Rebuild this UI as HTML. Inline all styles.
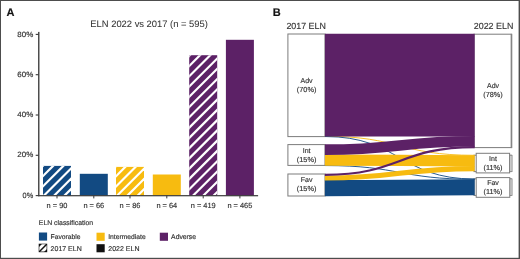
<!DOCTYPE html><html><head><meta charset="utf-8"><title>ELN 2022 vs 2017</title><style>html,body{margin:0;padding:0;background:#fff;width:520px;height:259px;overflow:hidden;}body{position:relative;font-family:"Liberation Sans",sans-serif;}</style></head><body><svg width="520" height="259" viewBox="0 0 520 259" style="position:absolute;left:0;top:0;will-change:transform" font-family='"Liberation Sans", sans-serif'>
<style>text{stroke:#333;stroke-width:0.16px;paint-order:stroke;text-rendering:geometricPrecision}</style>
<defs><clipPath id="cb0"><rect x="43.0" y="165.9" width="28" height="29.69999999999999"/></clipPath><clipPath id="cb2"><rect x="116.0" y="166.9" width="28" height="28.69999999999999"/></clipPath><clipPath id="cb4"><rect x="189.2" y="55.2" width="28" height="140.39999999999998"/></clipPath></defs>
<rect x="0" y="0" width="520" height="259" fill="#fff"/>
<text x="6.5" y="15.6" font-size="11" font-weight="bold" fill="#111">A</text>
<text x="272.8" y="15.7" font-size="11" font-weight="bold" fill="#111">B</text>
<text x="149.1" y="26.5" font-size="9.4" text-anchor="middle" fill="#333333" style="stroke-width:0.05px">ELN 2022 vs 2017 (n = 595)</text>
<rect x="43.0" y="165.9" width="28" height="29.69999999999999" fill="#124a82"/>
<g clip-path="url(#cb0)" stroke="#fff" stroke-width="2.2"><line x1="-2.14" y1="200.60" x2="37.56" y2="160.90"/><line x1="8.13" y1="200.60" x2="47.83" y2="160.90"/><line x1="18.40" y1="200.60" x2="58.10" y2="160.90"/><line x1="28.67" y1="200.60" x2="68.37" y2="160.90"/><line x1="38.94" y1="200.60" x2="78.64" y2="160.90"/><line x1="49.21" y1="200.60" x2="88.91" y2="160.90"/><line x1="59.48" y1="200.60" x2="99.18" y2="160.90"/><line x1="69.75" y1="200.60" x2="109.45" y2="160.90"/><line x1="80.02" y1="200.60" x2="119.72" y2="160.90"/></g>
<rect x="79.8" y="173.8" width="28" height="21.799999999999983" fill="#124a82"/>
<rect x="116.0" y="166.9" width="28" height="28.69999999999999" fill="#f7bb10"/>
<g clip-path="url(#cb2)" stroke="#fff" stroke-width="2.2"><line x1="71.06" y1="200.60" x2="109.76" y2="161.90"/><line x1="81.33" y1="200.60" x2="120.03" y2="161.90"/><line x1="91.60" y1="200.60" x2="130.30" y2="161.90"/><line x1="101.87" y1="200.60" x2="140.57" y2="161.90"/><line x1="112.14" y1="200.60" x2="150.84" y2="161.90"/><line x1="122.41" y1="200.60" x2="161.11" y2="161.90"/><line x1="132.68" y1="200.60" x2="171.38" y2="161.90"/><line x1="142.95" y1="200.60" x2="181.65" y2="161.90"/><line x1="153.22" y1="200.60" x2="191.92" y2="161.90"/></g>
<rect x="152.8" y="174.5" width="28" height="21.099999999999994" fill="#f7bb10"/>
<rect x="189.2" y="55.2" width="28" height="140.39999999999998" fill="#5c2166"/>
<g clip-path="url(#cb4)" stroke="#fff" stroke-width="2.2"><line x1="23.79" y1="200.60" x2="174.19" y2="50.20"/><line x1="34.06" y1="200.60" x2="184.46" y2="50.20"/><line x1="44.33" y1="200.60" x2="194.73" y2="50.20"/><line x1="54.60" y1="200.60" x2="205.00" y2="50.20"/><line x1="64.87" y1="200.60" x2="215.27" y2="50.20"/><line x1="75.14" y1="200.60" x2="225.54" y2="50.20"/><line x1="85.41" y1="200.60" x2="235.81" y2="50.20"/><line x1="95.68" y1="200.60" x2="246.08" y2="50.20"/><line x1="105.95" y1="200.60" x2="256.35" y2="50.20"/><line x1="116.22" y1="200.60" x2="266.62" y2="50.20"/><line x1="126.49" y1="200.60" x2="276.89" y2="50.20"/><line x1="136.76" y1="200.60" x2="287.16" y2="50.20"/><line x1="147.03" y1="200.60" x2="297.43" y2="50.20"/><line x1="157.30" y1="200.60" x2="307.70" y2="50.20"/><line x1="167.57" y1="200.60" x2="317.97" y2="50.20"/><line x1="177.84" y1="200.60" x2="328.24" y2="50.20"/><line x1="188.11" y1="200.60" x2="338.51" y2="50.20"/><line x1="198.38" y1="200.60" x2="348.78" y2="50.20"/><line x1="208.65" y1="200.60" x2="359.05" y2="50.20"/><line x1="218.92" y1="200.60" x2="369.32" y2="50.20"/><line x1="229.19" y1="200.60" x2="379.59" y2="50.20"/></g>
<rect x="225.9" y="39.8" width="28" height="155.8" fill="#5c2166"/>
<rect x="38.1" y="31.9" width="1.35" height="164.3" fill="#3a3a3a"/>
<rect x="38.1" y="195.1" width="220" height="1.2" fill="#3a3a3a"/>
<rect x="35.7" y="195.04999999999998" width="2.8" height="1.1" fill="#3a3a3a"/>
<text x="33.2" y="197.7" font-size="7.7" text-anchor="end" fill="#333333" textLength="10.6" lengthAdjust="spacingAndGlyphs">0%</text>
<rect x="35.7" y="154.75" width="2.8" height="1.1" fill="#3a3a3a"/>
<text x="33.2" y="157.4" font-size="7.7" text-anchor="end" fill="#333333" textLength="15.9" lengthAdjust="spacingAndGlyphs">20%</text>
<rect x="35.7" y="114.45" width="2.8" height="1.1" fill="#3a3a3a"/>
<text x="33.2" y="117.1" font-size="7.7" text-anchor="end" fill="#333333" textLength="15.9" lengthAdjust="spacingAndGlyphs">40%</text>
<rect x="35.7" y="74.15" width="2.8" height="1.1" fill="#3a3a3a"/>
<text x="33.2" y="76.8" font-size="7.7" text-anchor="end" fill="#333333" textLength="15.9" lengthAdjust="spacingAndGlyphs">60%</text>
<rect x="35.7" y="33.85000000000001" width="2.8" height="1.1" fill="#3a3a3a"/>
<text x="33.2" y="36.50000000000001" font-size="7.7" text-anchor="end" fill="#333333" textLength="15.9" lengthAdjust="spacingAndGlyphs">80%</text>
<rect x="56.5" y="195.5" width="1" height="2.9" fill="#3a3a3a"/>
<text x="57.0" y="208.4" font-size="7.4" text-anchor="middle" fill="#333333">n = 90</text>
<rect x="93.3" y="195.5" width="1" height="2.9" fill="#3a3a3a"/>
<text x="93.8" y="208.4" font-size="7.4" text-anchor="middle" fill="#333333">n = 66</text>
<rect x="129.5" y="195.5" width="1" height="2.9" fill="#3a3a3a"/>
<text x="130.0" y="208.4" font-size="7.4" text-anchor="middle" fill="#333333">n = 86</text>
<rect x="166.3" y="195.5" width="1" height="2.9" fill="#3a3a3a"/>
<text x="166.8" y="208.4" font-size="7.4" text-anchor="middle" fill="#333333">n = 64</text>
<rect x="202.7" y="195.5" width="1" height="2.9" fill="#3a3a3a"/>
<text x="203.2" y="208.4" font-size="7.4" text-anchor="middle" fill="#333333">n = 419</text>
<rect x="239.4" y="195.5" width="1" height="2.9" fill="#3a3a3a"/>
<text x="239.9" y="208.4" font-size="7.4" text-anchor="middle" fill="#333333">n = 465</text>
<text x="38.8" y="225.3" font-size="6.9" fill="#333333">ELN classification</text>
<rect x="38.9" y="232.5" width="8.2" height="8.1" fill="#124a82"/>
<text x="50.6" y="239.2" font-size="6.75" fill="#333333">Favorable</text>
<rect x="96.5" y="232.7" width="8.2" height="8.1" fill="#f7bb10"/>
<text x="108.2" y="239.2" font-size="6.75" fill="#333333">Intermediate</text>
<rect x="159.8" y="232.7" width="8.2" height="8.1" fill="#5c2166"/>
<text x="171.1" y="239.2" font-size="6.8" fill="#333333">Adverse</text>
<rect x="38.7" y="243.7" width="8.5" height="8.5" fill="#111"/>
<clipPath id="clg"><rect x="39.3" y="244.3" width="7.3" height="7.3"/></clipPath>
<g clip-path="url(#clg)" stroke="#fff" stroke-width="2.8"><line x1="31.899999999999977" y1="256" x2="47.89999999999998" y2="240"/><line x1="38.0" y1="256" x2="54.0" y2="240"/></g>
<text x="50.6" y="250.8" font-size="7" fill="#333333">2017 ELN</text>
<rect x="96.5" y="244.2" width="8.2" height="8.1" fill="#111"/>
<text x="108.3" y="250.8" font-size="7" fill="#333333">2022 ELN</text>
<rect x="287.9" y="34.0" width="37.10000000000002" height="102.6" fill="#fff" stroke="#7c7c7c" stroke-width="1.0"/>
<rect x="287.9" y="144.6" width="37.10000000000002" height="20.80000000000001" fill="#fff" stroke="#7c7c7c" stroke-width="1.0"/>
<rect x="287.9" y="174.0" width="37.10000000000002" height="22.0" fill="#fff" stroke="#7c7c7c" stroke-width="1.0"/>
<rect x="474.0" y="34.2" width="37.30000000000001" height="113.39999999999999" fill="#fff" stroke="#7c7c7c" stroke-width="1.0"/>
<rect x="510.8" y="33.8" width="1.5" height="114.3" fill="#858585"/>
<rect x="474.0" y="155.2" width="37.30000000000001" height="16.400000000000006" fill="#fff" stroke="#7c7c7c" stroke-width="1.0"/>
<rect x="474.0" y="178.8" width="37.30000000000001" height="16.599999999999994" fill="#fff" stroke="#7c7c7c" stroke-width="1.0"/>
<rect x="509.4" y="155.3" width="2.7" height="16.3" fill="#d2d2d2" stroke="#8a8a8a" stroke-width="0.8"/>
<rect x="509.4" y="178.9" width="2.7" height="16.5" fill="#d2d2d2" stroke="#8a8a8a" stroke-width="0.8"/>
<path d="M324.9,136.29 C399.8,136.29 399.8,155.32 474.7,155.32" fill="none" stroke="#f7bb10" stroke-width="0.90"/>
<path d="M324.9,136.53 C399.8,136.53 399.8,179.02 474.7,179.02" fill="none" stroke="#124a82" stroke-width="0.90"/>
<path d="M324.9,165.55 C399.8,165.55 399.8,179.27 474.7,179.27" fill="none" stroke="#124a82" stroke-width="0.90"/>
<path d="M324.9,85.08 C399.8,85.08 399.8,85.08 474.7,85.08" fill="none" stroke="#5c2166" stroke-width="102.66"/>
<path d="M324.9,160.03 C399.8,160.03 399.8,160.83 474.7,160.83" fill="none" stroke="#f7bb10" stroke-width="11.28"/>
<path d="M324.9,188.21 C399.8,188.21 399.8,187.23 474.7,187.23" fill="none" stroke="#124a82" stroke-width="16.18"/>
<path d="M324.9,178.04 C399.8,178.04 399.8,168.55 474.7,168.55" fill="none" stroke="#f7bb10" stroke-width="5.16"/>
<path d="M324.9,149.62 C399.8,149.62 399.8,141.19 474.7,141.19" fill="none" stroke="#5c2166" stroke-width="10.54"/>
<path d="M324.9,174.86 C399.8,174.86 399.8,147.07 474.7,147.07" fill="none" stroke="#5c2166" stroke-width="2.21"/>
<rect x="476.2" y="153.3" width="33.400000000000034" height="19.599999999999994" fill="#fff" stroke="#7c7c7c" stroke-width="1.0"/>
<rect x="476.2" y="177.6" width="33.60000000000002" height="19.700000000000017" fill="#fff" stroke="#7c7c7c" stroke-width="1.0"/>
<text x="306.6" y="82.9" font-size="7.0" text-anchor="middle" fill="#333333">Adv</text><text x="306.6" y="92.0" font-size="7.3" text-anchor="middle" fill="#333333">(70%)</text>
<text x="306.6" y="152.7" font-size="7.0" text-anchor="middle" fill="#333333">Int</text><text x="306.6" y="161.9" font-size="7.3" text-anchor="middle" fill="#333333">(15%)</text>
<text x="306.6" y="182.0" font-size="7.0" text-anchor="middle" fill="#333333">Fav</text><text x="306.6" y="191.3" font-size="7.3" text-anchor="middle" fill="#333333">(15%)</text>
<text x="493.0" y="88.3" font-size="7.0" text-anchor="middle" fill="#333333">Adv</text><text x="493.0" y="96.9" font-size="7.3" text-anchor="middle" fill="#333333">(78%)</text>
<text x="493.0" y="161.3" font-size="7.0" text-anchor="middle" fill="#333333">Int</text><text x="493.0" y="170.4" font-size="7.3" text-anchor="middle" fill="#333333">(11%)</text>
<text x="493.0" y="185.0" font-size="7.0" text-anchor="middle" fill="#333333">Fav</text><text x="493.0" y="194.0" font-size="7.3" text-anchor="middle" fill="#333333">(11%)</text>
<text x="286.4" y="29" font-size="8.9" fill="#333333" style="stroke-width:0.14px">2017 ELN</text>
<text x="513.3" y="28.8" font-size="8.9" text-anchor="end" fill="#333333" style="stroke-width:0.14px">2022 ELN</text>
<rect x="0" y="0" width="520" height="1" fill="#4d4d4d"/>
<rect x="0" y="0" width="1.0" height="259" fill="#4d4d4d"/>
<rect x="518.6" y="0" width="1.4" height="259" fill="#4d4d4d"/>
<rect x="0" y="257.8" width="520" height="1.2" fill="#4d4d4d"/>
</svg></body></html>
